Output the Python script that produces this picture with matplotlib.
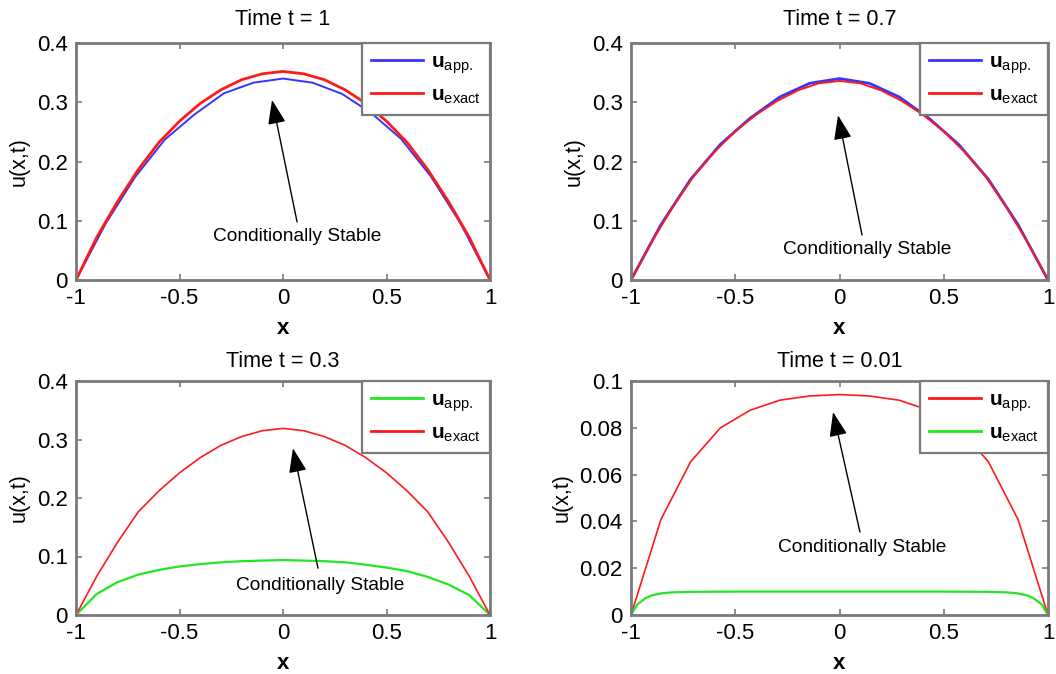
import matplotlib
matplotlib.use("Agg")
import matplotlib.pyplot as plt

plt.rcParams['font.family'] = ['Liberation Sans', 'DejaVu Sans']
plt.rcParams['mathtext.fontset'] = 'custom'
plt.rcParams['mathtext.rm'] = 'Liberation Sans'
plt.rcParams['mathtext.bf'] = 'Liberation Sans:bold'

# ---------------- data ----------------
x15 = [-1.0, -0.857, -0.714, -0.571, -0.429, -0.286, -0.143, 0.0,
       0.143, 0.286, 0.429, 0.571, 0.714, 0.857, 1.0]
x21 = [-1.0, -0.9, -0.8, -0.7, -0.6, -0.5, -0.4, -0.3, -0.2, -0.1, 0.0,
       0.1, 0.2, 0.3, 0.4, 0.5, 0.6, 0.7, 0.8, 0.9, 1.0]
x_fine = [-1.0, -0.97, -0.93, -0.9, -0.85, -0.8, -0.7, -0.5, 0.0,
          0.5, 0.7, 0.8, 0.85, 0.9, 0.93, 0.97, 1.0]

# t = 1
t1_app = [0, 0.095, 0.174, 0.237, 0.279, 0.315, 0.333, 0.340,
          0.333, 0.314, 0.281, 0.238, 0.175, 0.096, 0]
t1_exact = [0, 0.072, 0.132, 0.186, 0.232, 0.268, 0.298, 0.321, 0.338, 0.348, 0.352,
            0.348, 0.338, 0.321, 0.298, 0.268, 0.232, 0.186, 0.132, 0.072, 0]
# t = 0.7
t07_app = [0, 0.093, 0.170, 0.229, 0.273, 0.309, 0.332, 0.340,
           0.332, 0.309, 0.273, 0.229, 0.170, 0.093, 0]
t07_exact = [0, 0.065, 0.123, 0.175, 0.216, 0.251, 0.279, 0.302, 0.320, 0.332, 0.336,
             0.332, 0.320, 0.302, 0.279, 0.251, 0.216, 0.175, 0.123, 0.065, 0]
# t = 0.3
t03_app = [0, 0.036, 0.056, 0.069, 0.077, 0.083, 0.087, 0.090, 0.092, 0.093, 0.094,
           0.093, 0.092, 0.090, 0.086, 0.081, 0.075, 0.065, 0.052, 0.034, 0]
t03_exact = [0, 0.066, 0.124, 0.176, 0.212, 0.243, 0.269, 0.290, 0.305, 0.315, 0.319,
             0.315, 0.305, 0.290, 0.269, 0.243, 0.212, 0.176, 0.124, 0.066, 0]
# t = 0.01
t001_app = [0, 0.0407, 0.0655, 0.0800, 0.0875, 0.0918, 0.0936, 0.0942,
            0.0936, 0.0918, 0.0875, 0.0800, 0.0655, 0.0407, 0]
t001_exact = [0, 0.0045, 0.0072, 0.0084, 0.0093, 0.0097, 0.0099, 0.0100, 0.0100,
              0.0100, 0.0099, 0.0097, 0.0093, 0.0084, 0.0072, 0.0045, 0]

titles = ["Time t = 1", "Time t = 0.7", "Time t = 0.3", "Time t = 0.01"]
xticks = [-1, -0.5, 0, 0.5, 1]
xticklabels = ["-1", "-0.5", "0", "0.5", "1"]
yticks_a = [0, 0.1, 0.2, 0.3, 0.4]
yticklabels_a = ["0", "0.1", "0.2", "0.3", "0.4"]
yticks_b = [0, 0.02, 0.04, 0.06, 0.08, 0.1]
yticklabels_b = ["0", "0.02", "0.04", "0.06", "0.08", "0.1"]

BLUE = '#3535ff'
RED = '#ff1a1a'
GREEN = '#22e622'
FRAME = '#7a7a7a'

lab_app = r'$\mathbf{u}_{\mathrm{app.}}$'
lab_exact = r'$\mathbf{u}_{\mathrm{exact}}$'

panels = [
    dict(pos=[76, 43, 490, 280], title=titles[0], title_pad=13,
         lines=[(x15, t1_app, BLUE, 1.4, lab_app), (x21, t1_exact, RED, 2.0, lab_exact)],
         yt=yticks_a, ytl=yticklabels_a, ylim=0.4,
         head=(-0.053, 0.304), tail=(0.068, 0.098), text=(0.068, 0.073)),
    dict(pos=[631, 43, 1048, 280], title=titles[1], title_pad=13,
         lines=[(x15, t07_app, BLUE, 2.0, lab_app), (x21, t07_exact, RED, 1.4, lab_exact)],
         yt=yticks_a, ytl=yticklabels_a, ylim=0.4,
         head=(-0.007, 0.278), tail=(0.108, 0.076), text=(0.131, 0.051)),
    dict(pos=[76, 381, 490, 615], title=titles[2], title_pad=10,
         lines=[(x21, t03_app, GREEN, 1.6, lab_app), (x21, t03_exact, RED, 1.2, lab_exact)],
         yt=yticks_a, ytl=yticklabels_a, ylim=0.4,
         head=(0.048, 0.285), tail=(0.169, 0.080), text=(0.179, 0.050)),
    dict(pos=[631, 381, 1048, 615], title=titles[3], title_pad=10,
         lines=[(x15, t001_app, RED, 1.2, lab_app), (x_fine, t001_exact, GREEN, 1.6, lab_exact)],
         yt=yticks_b, ytl=yticklabels_b, ylim=0.1,
         head=(-0.031, 0.0867), tail=(0.098, 0.0355), text=(0.108, 0.029)),
]

W, H = 1056, 674
fig = plt.figure(figsize=(W / 100, H / 100), dpi=100)

for p in panels:
    l, t, r, b = p['pos']
    ax = fig.add_axes([l / W, 1 - b / H, (r - l) / W, (b - t) / H])
    handles = []
    for xs, ys, c, lw, lab in p['lines']:
        h, = ax.plot(xs, ys, color=c, lw=lw, label=lab)
        handles.append(h)
    ax.set_xlim(-1, 1)
    ax.set_ylim(0, p['ylim'])
    ax.set_xticks(xticks)
    ax.set_xticklabels(xticklabels)
    ax.set_yticks(p['yt'])
    ax.set_yticklabels(p['ytl'])
    ax.tick_params(direction='in', length=4, width=1.2, color=FRAME,
                   top=True, right=True, labelsize=16, pad=6, labelcolor='black')
    for s in ax.spines.values():
        s.set_color(FRAME)
        s.set_linewidth(2)
    ax.set_title(p['title'], fontsize=15.5, pad=p['title_pad'])
    ax.set_xlabel('x', fontsize=16, fontweight='bold', labelpad=6)
    ax.set_ylabel('u(x,t)', fontsize=15.5, labelpad=5)
    leg = ax.legend(handles=handles, loc='upper right', borderaxespad=0,
                    fontsize=15, handlelength=2.5, handletextpad=0.35,
                    fancybox=False, framealpha=1, borderpad=0.45, labelspacing=0.45)
    leg.get_frame().set_edgecolor(FRAME)
    leg.get_frame().set_linewidth(1.6)
    for lh in leg.get_lines():
        lh.set_linewidth(2.0)
    ax.annotate('', xy=p['head'], xytext=p['tail'],
                arrowprops=dict(arrowstyle='-|>,head_length=1.5,head_width=0.55',
                                color='black', lw=1.0, shrinkA=0, shrinkB=0))
    ax.text(p['text'][0], p['text'][1], 'Conditionally Stable', fontsize=13.8,
            ha='center', va='center')

fig.savefig('out.png', dpi=100)
